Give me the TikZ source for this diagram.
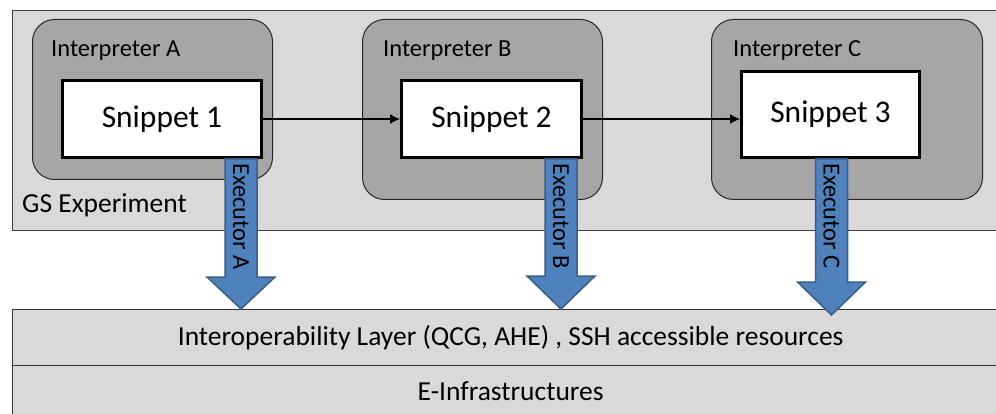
\documentclass[tikz,border=0pt]{standalone}
\usepackage{fontspec}
\setmainfont{Carlito}
\usetikzlibrary{arrows.meta}

\definecolor{gsgray}{HTML}{D9D9D9}
\definecolor{interpgray}{HTML}{A6A6A6}
\definecolor{execfill}{HTML}{4F81BD}
\definecolor{execline}{HTML}{385D8A}

\begin{document}
\begin{tikzpicture}[x=1pt,y=-1pt,
		frame/.style={draw=black!75,fill=gsgray,line width=1pt,anchor=north west,inner sep=0pt},
		interp/.style={draw=black!85,fill=interpgray,line width=1pt,rounded corners=22pt,anchor=north west,inner sep=0pt},
		snippet/.style={draw=black,fill=white,line width=3pt,inner sep=0pt,font=\fontsize{31.5}{36}\selectfont},
		lbl/.style={anchor=base west,inner sep=0pt,font=\fontsize{24.5}{28}\selectfont},
		layer/.style={frame,draw=black!80,line width=1.3pt,font=\fontsize{27.5}{32}\selectfont},
		flow/.style={-{Latex[length=10pt,width=10pt]},line width=1.5pt},
		execarrow/.style={draw=execline,fill=execfill,line width=1.5pt,line join=miter},
		execlabel/.style={rotate=-90,anchor=west,inner sep=0pt,font=\fontsize{24.5}{28}\selectfont}]
	\clip (0,0) rectangle (996,414);
	% experiment frame
	\node[frame,minimum width=1000pt,minimum height=220pt] (gs) at (12,10) {};
	\node[lbl,font=\fontsize{27.5}{32}\selectfont] (gslabel) at (22,213) {GS Experiment};
	% interpreters
	\node[interp,minimum width=240pt,minimum height=160pt] (ia) at (32,19) {};
	\node[interp,minimum width=240pt,minimum height=180pt] (ib) at (362,19) {};
	\node[interp,minimum width=271pt,minimum height=180pt] (ic) at (711,19) {};
	\node[lbl] (ialabel) at (51,57) {Interpreter A};
	\node[lbl] (iblabel) at (383,57) {Interpreter B};
	\node[lbl] (iclabel) at (733,57) {Interpreter C};
	% snippets
	\node[snippet,minimum width=199pt,minimum height=77pt] (s1) at (162,119) {Snippet 1};
	\node[snippet,minimum width=180pt,minimum height=77pt] (s2) at (491.5,119) {Snippet 2};
	\node[snippet,minimum width=178pt,minimum height=86pt] (s3) at (830.5,114.5) {Snippet 3};
	\draw[flow] (s1.east) -- (s2.west);
	\draw[flow] (s2.east) -- (s2.east -| s3.west);
	% layers
	\node[layer,minimum width=996pt,minimum height=56pt] (interop) at (12,309) {Interoperability Layer (QCG, AHE) , SSH accessible resources};
	\node[layer,minimum width=996pt,minimum height=51pt] (infra) at (12,365) {E-Infrastructures};
	% executors
	\foreach \cx/\hb/\tp/\nm in {241/277/309/A,561/276/309/B,831.5/282/315/C}{
		\draw[execarrow] (\cx-16,159) -- (\cx-16,\hb) -- (\cx-34,\hb) -- (\cx,\tp)
			-- (\cx+34,\hb) -- (\cx+16,\hb) -- (\cx+16,159) -- cycle;
		\node[execlabel] (ex\nm) at (\cx,163) {Executor \nm};
	}
\end{tikzpicture}
\end{document}
